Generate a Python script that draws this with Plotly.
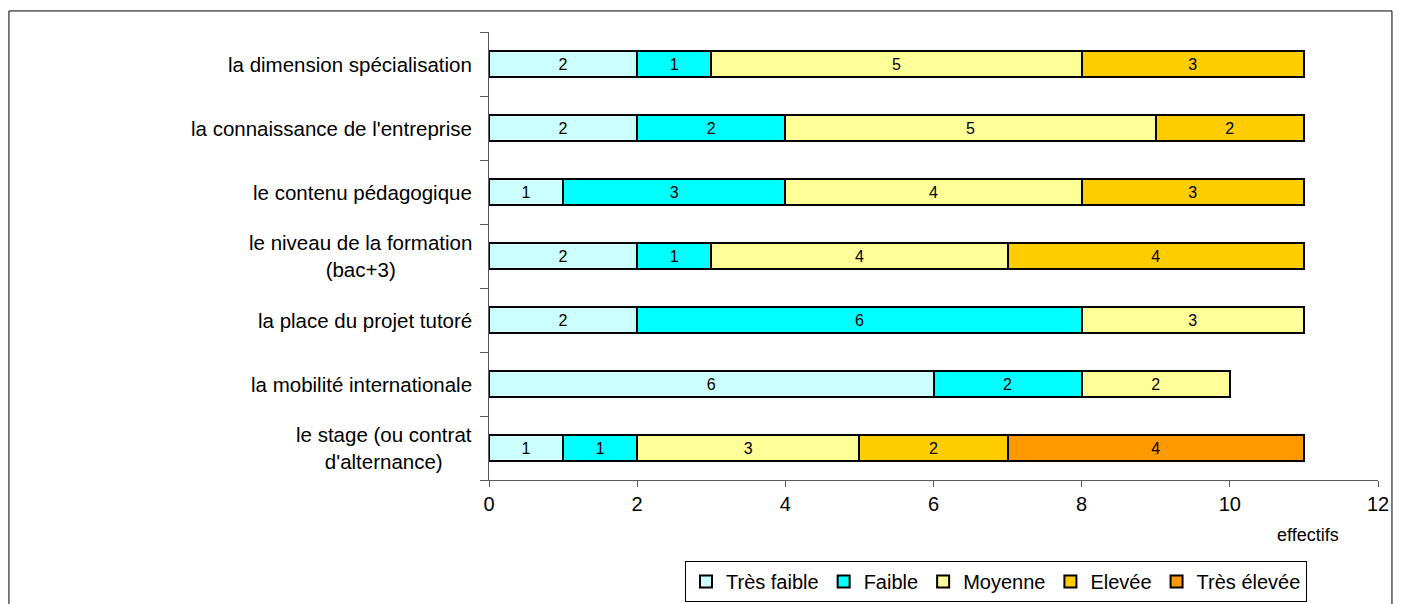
import plotly.graph_objects as go

categories = [
    "la dimension spécialisation",
    "la connaissance de l'entreprise",
    "le contenu pédagogique",
    "le niveau de la formation<br>(bac+3)",
    "la place du projet tutoré",
    "la mobilité internationale",
    "le stage (ou contrat<br>d'alternance)",
]
series_names = ["Très faible", "Faible", "Moyenne", "Elevée", "Très élevée"]
tres_faible = [2, 2, 1, 2, 2, 6, 1]
faible = [1, 2, 3, 1, 6, 2, 1]
moyenne = [5, 5, 4, 4, 3, 2, 3]
elevee = [3, 2, 3, 4, None, None, 2]
tres_elevee = [None, None, None, None, None, None, 4]
x_ticks = [0, 2, 4, 6, 8, 10, 12]
x_title = "effectifs"

colors = ["#CCFFFF", "#00FFFF", "#FFFF99", "#FFCC00", "#FF9900"]
values = [tres_faible, faible, moyenne, elevee, tres_elevee]
FONT = "Liberation Sans, Arial, sans-serif"

W, H = 1395, 596

fig = go.Figure()
for name, vals, col in zip(series_names, values, colors):
    fig.add_trace(go.Bar(
        y=categories, x=vals, name=name, orientation="h",
        marker=dict(color=col, line=dict(color="#000000", width=2)),
        text=[str(v) if v is not None else "" for v in vals],
        textposition="inside", insidetextanchor="middle",
        textfont=dict(family=FONT, size=16, color="#000000"),
        constraintext="none",
        hoverinfo="x+y+name",
    ))

for c in categories:
    fig.add_annotation(
        x=0, xref="paper", y=c, yref="y", text=c, showarrow=False,
        xanchor="right", align="center", xshift=-15,
        font=dict(family=FONT, size=20.5, color="#000000"),
    )

fig.add_annotation(
    x=0.921, xref="paper", y=-0.123, yref="paper", text=x_title,
    showarrow=False, xanchor="center", yanchor="middle",
    font=dict(family=FONT, size=18, color="#000000"),
)

fig.add_shape(type="rect", xref="paper", yref="paper",
              x0=-0.54, x1=1.0157, y0=-0.35, y1=1.047,
              line=dict(color="#000000", width=1), fillcolor="rgba(0,0,0,0)",
              layer="below")

fig.update_layout(
    width=W, height=H,
    margin=dict(l=481, r=25, t=24, b=124, autoexpand=False),
    barmode="stack", bargap=0.59,
    plot_bgcolor="white", paper_bgcolor="white",
    font=dict(family=FONT, size=20, color="#000000"),
    showlegend=True,
    legend=dict(
        orientation="h", xref="container", yref="container",
        x=677 / W, y=1 - 553 / H, xanchor="left", yanchor="top",
        bordercolor="#000000", borderwidth=1,
        font=dict(family=FONT, size=20, color="#000000"),
        traceorder="normal", itemwidth=30, tracegroupgap=0,
    ),
    xaxis=dict(
        range=[0, 12], tickvals=x_ticks, ticks="outside", ticklen=6,
        tickcolor="#5a5a5a", showline=True, linecolor="#5a5a5a", linewidth=1,
        showgrid=False, zeroline=False, automargin=False,
        tickfont=dict(family=FONT, size=20, color="#000000"),
    ),
    yaxis=dict(
        categoryorder="array", categoryarray=categories[::-1],
        showticklabels=False, ticks="outside", ticklen=8, tickson="boundaries",
        tickcolor="#5a5a5a", showline=True, linecolor="#5a5a5a", linewidth=1,
        showgrid=False, zeroline=False, range=[-0.5, 6.5], automargin=False,
    ),
)

fig.write_html("out.html")
